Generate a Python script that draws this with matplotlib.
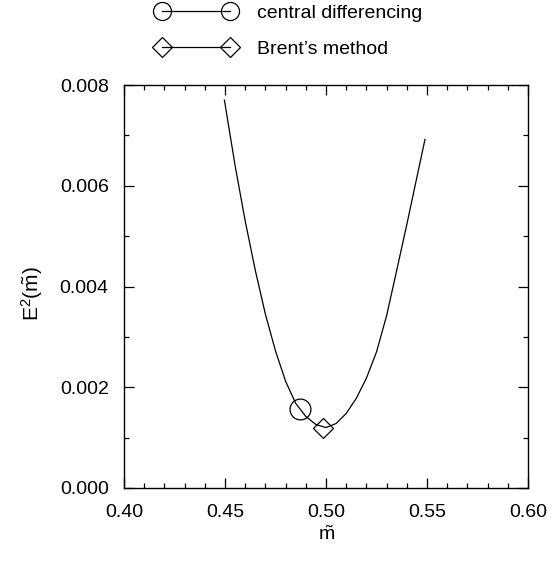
import matplotlib
matplotlib.use("Agg")
import matplotlib.pyplot as plt
from matplotlib.ticker import MultipleLocator, FormatStrFormatter
from matplotlib.lines import Line2D

plt.rcParams['font.family'] = ['Liberation Sans', 'DejaVu Sans']
plt.rcParams['mathtext.fontset'] = 'custom'
plt.rcParams['mathtext.rm'] = 'Liberation Sans'
plt.rcParams['mathtext.it'] = 'Liberation Sans:italic'

# curve E^2(m~)
m_vals = [0.4497, 0.455, 0.460, 0.465, 0.470, 0.475, 0.480, 0.485, 0.490, 0.495,
          0.500, 0.505, 0.510, 0.515, 0.520, 0.525, 0.530, 0.535, 0.540, 0.545, 0.549]
e2_vals = [0.00770, 0.00640, 0.00530, 0.00432, 0.00345, 0.00272, 0.00212, 0.00168,
           0.00142, 0.00126, 0.00120, 0.00128, 0.00148, 0.00178, 0.00218, 0.00270,
           0.00342, 0.00432, 0.00523, 0.00617, 0.00692]

# minima found by the two methods
cd_m = [0.4869]
cd_e2 = [0.00157]
brent_m = [0.4986]
brent_e2 = [0.00120]

labels = ["central differencing", "Brent\u2019s method"]

fig = plt.figure(figsize=(5.54, 5.64), dpi=100)
ax = fig.add_axes([124/554, 1-488/564, (528-124)/554, (488-85)/564])

ax.plot(m_vals, e2_vals, color='black', lw=0.9)
ax.plot(cd_m, cd_e2, ls='none', marker='o', ms=15, mfc='none', mec='black', mew=0.9)
ax.plot(brent_m, brent_e2, ls='none', marker='D', ms=10.2, mfc='none', mec='black', mew=0.9)

ax.set_xlim(0.40, 0.60)
ax.set_ylim(0.0, 0.008)
ax.xaxis.set_major_locator(MultipleLocator(0.05))
ax.xaxis.set_minor_locator(MultipleLocator(0.01))
ax.yaxis.set_major_locator(MultipleLocator(0.002))
ax.yaxis.set_minor_locator(MultipleLocator(0.001))
ax.xaxis.set_major_formatter(FormatStrFormatter('%.2f'))
ax.yaxis.set_major_formatter(FormatStrFormatter('%.3f'))
ax.tick_params(which='both', direction='in', top=True, right=True, width=0.9,
               labelsize=14)
ax.tick_params(which='major', length=7.2)
ax.tick_params(which='minor', length=3.6)
ax.tick_params(axis='x', which='major', pad=11.5)
ax.tick_params(axis='y', which='major', pad=11)
for s in ax.spines.values():
    s.set_linewidth(1.0)

ax.set_xlabel(r'$\tilde{\mathrm{m}}$', fontsize=14, labelpad=3)
ax.set_ylabel(r'$\mathrm{E}^2(\tilde{\mathrm{m}})$', fontsize=15)
ax.yaxis.set_label_coords(-0.195, 0.483)

handles = [Line2D([], [], color='black', lw=0.9, marker='o', ms=13, mfc='none', mec='black', mew=0.9),
           Line2D([], [], color='black', lw=0.9, marker='D', ms=10, mfc='none', mec='black', mew=0.9)]
fig.legend(handles, labels, loc='upper left', bbox_to_anchor=(152/554, 1.0),
           frameon=False, numpoints=2, handlelength=4.1, handletextpad=1.08,
           labelspacing=0.96, fontsize=14, borderaxespad=0.0, borderpad=0.2)

fig.savefig('out.png', dpi=100)
